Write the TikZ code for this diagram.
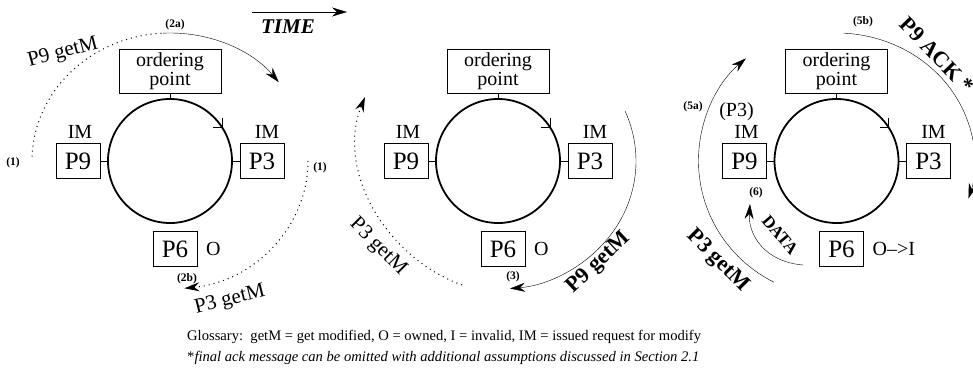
\documentclass[tikz,border=0pt]{standalone}
\usepackage{fontspec}
\setmainfont{Liberation Serif}
\usetikzlibrary{positioning,arrows.meta}

\begin{document}
\begin{tikzpicture}[
x=1pt,y=1pt,
ring/.style={
  draw,
  circle,
  line width=1.8pt,
  minimum size=124pt,
  inner sep=0pt,
  outer sep=0pt
  },
procbox/.style={
  draw,
  minimum width=44pt,
  minimum height=35pt,
  inner sep=0pt,
  outer sep=0pt,
  font=\fontsize{25}{25}\selectfont
  },
opbox/.style={
  draw,
  align=center,
  minimum width=102pt,
  minimum height=44pt,
  inner sep=0pt,
  outer sep=0pt,
  font=\fontsize{20}{17}\selectfont
  },
state/.style={inner sep=0pt,font=\fontsize{20}{20}\selectfont},
stepnum/.style={inner sep=0pt,font=\bfseries\fontsize{11.5}{11.5}\selectfont},
msg/.style={inner sep=0pt,font=\fontsize{21}{21}\selectfont},
bmsg/.style={inner sep=0pt,font=\bfseries\fontsize{22}{22}\selectfont},
tip/.style={-{Stealth[length=15pt,width=9pt,inset=5pt]}},
dots/.style={dash pattern=on 1pt off 4pt,line width=1pt}
]
\useasboundingbox (0,0) rectangle (973,377);
\foreach \n/\x/\own in {1/170/O,2/498/O,3/836.5/O\textendash>I}{
  \node[ring] (ring\n) at (\x,216) {};
  \node[opbox,above=6pt of ring\n] (op\n) {ordering\\point};
  \node[procbox,left=8pt of ring\n] (pnine\n) {P9};
  \node[procbox,right=8pt of ring\n] (pthree\n) {P3};
  \node[procbox,below=8.5pt of ring\n,xshift=5pt] (psix\n) {P6};
  \node[state,above=5pt of pnine\n,xshift=2pt] (imnine\n) {IM};
  \node[state,above=5pt of pthree\n,xshift=5pt] (imthree\n) {IM};
  \node[state,right=9pt of psix\n] (own\n) {\own};
  \draw (op\n) -- (ring\n.north);
  \draw (pnine\n) -- (ring\n.west);
  \draw (pthree\n) -- (ring\n.east);
  \draw (ring\n.south) -- (ring\n.south -| psix\n.north);
  \path (ring\n) ++(33:62) coordinate (tick\n);
  \draw (tick\n) -- ++(-9,0) (tick\n) -- ++(0,9);
}
\node[state,above=4pt of imnine3,xshift=-10pt] (prevowner) {(P3)};

\coordinate (timefrom) at (252,365);
\coordinate (timeto) at (347,365);
\draw[tip] (timefrom) -- (timeto);
\node[inner sep=0pt,font=\bfseries\itshape\fontsize{21}{21}\selectfont] (time) at (288,350) {TIME};

\path (ring1) ++(178:138 and 128) coordinate (reqnine);
\draw[dots] (reqnine) arc[start angle=178,end angle=93,x radius=138,y radius=128] coordinate (ordnine);
\draw[tip] (ordnine) arc[start angle=93,end angle=38,x radius=138,y radius=128];
\path (ring1) ++(0:138 and 128) coordinate (reqthree);
\draw[dots,tip] (reqthree) arc[start angle=0,end angle=-84,x radius=138,y radius=128];
\node[stepnum] (one) at (13,214) {(1)};
\node[stepnum] (twoa) at (175,352) {(2a)};
\node[msg,rotate=15] (getnine) at (63,324) {P9 getM};
\node[stepnum] (oneb) at (320,209) {(1)};
\node[stepnum] (twob) at (187,98) {(2b)};
\node[msg,rotate=14] (getthree) at (230,77) {P3 getM};

\coordinate (lagthree) at (462,92);
\coordinate (lagthreeend) at (365,280);
\draw[dots,tip] (lagthree) .. controls (387,119) and (335,206) .. (lagthreeend);
\path (ring2) ++(23:138 and 128) coordinate (fwdnine);
\draw[tip] (fwdnine) arc[start angle=23,end angle=-85,x radius=138,y radius=128];
\node[msg,rotate=-45] (getthreeb) at (378,130) {P3 getM};
\node[stepnum] (three) at (513,100) {(3)};
\node[bmsg,rotate=43] (getnineb) at (599,114) {P9 getM};

\path (ring3) ++(243:138 and 136) coordinate (fwdthree);
\draw[tip] (fwdthree) arc[start angle=243,end angle=131,x radius=138,y radius=136];
\path (ring3) ++(87:138 and 128) coordinate (acknine);
\draw[tip] (acknine) arc[start angle=87,end angle=-17,x radius=138,y radius=128];
\coordinate (datafrom) at (803,112);
\coordinate (datato) at (750,173);
\draw[tip] (datafrom) .. controls (765,115) and (748,142) .. (datato);
\node[stepnum] (fivea) at (693,270) {(5a)};
\node[bmsg,rotate=-45] (getthreec) at (718,116) {P3 getM};
\node[stepnum] (six) at (756,184) {(6)};
\node[inner sep=0pt,font=\bfseries\fontsize{17}{17}\selectfont,rotate=-50] (data) at (780,142) {DATA};
\node[stepnum] (fiveb) at (863,355) {(5b)};
\node[bmsg,rotate=-46] (ack) at (937,322) {P9 ACK *};

\node[anchor=west,align=left,inner sep=0pt,font=\fontsize{14.6}{21}\selectfont] (gloss) at (187,29.5)
  {Glossary:\ \ getM = get modified, O = owned, I = invalid, IM = issued request for modify\\
   *\textit{final ack message can be omitted with additional assumptions discussed in Section 2.1}};
\end{tikzpicture}
\end{document}
